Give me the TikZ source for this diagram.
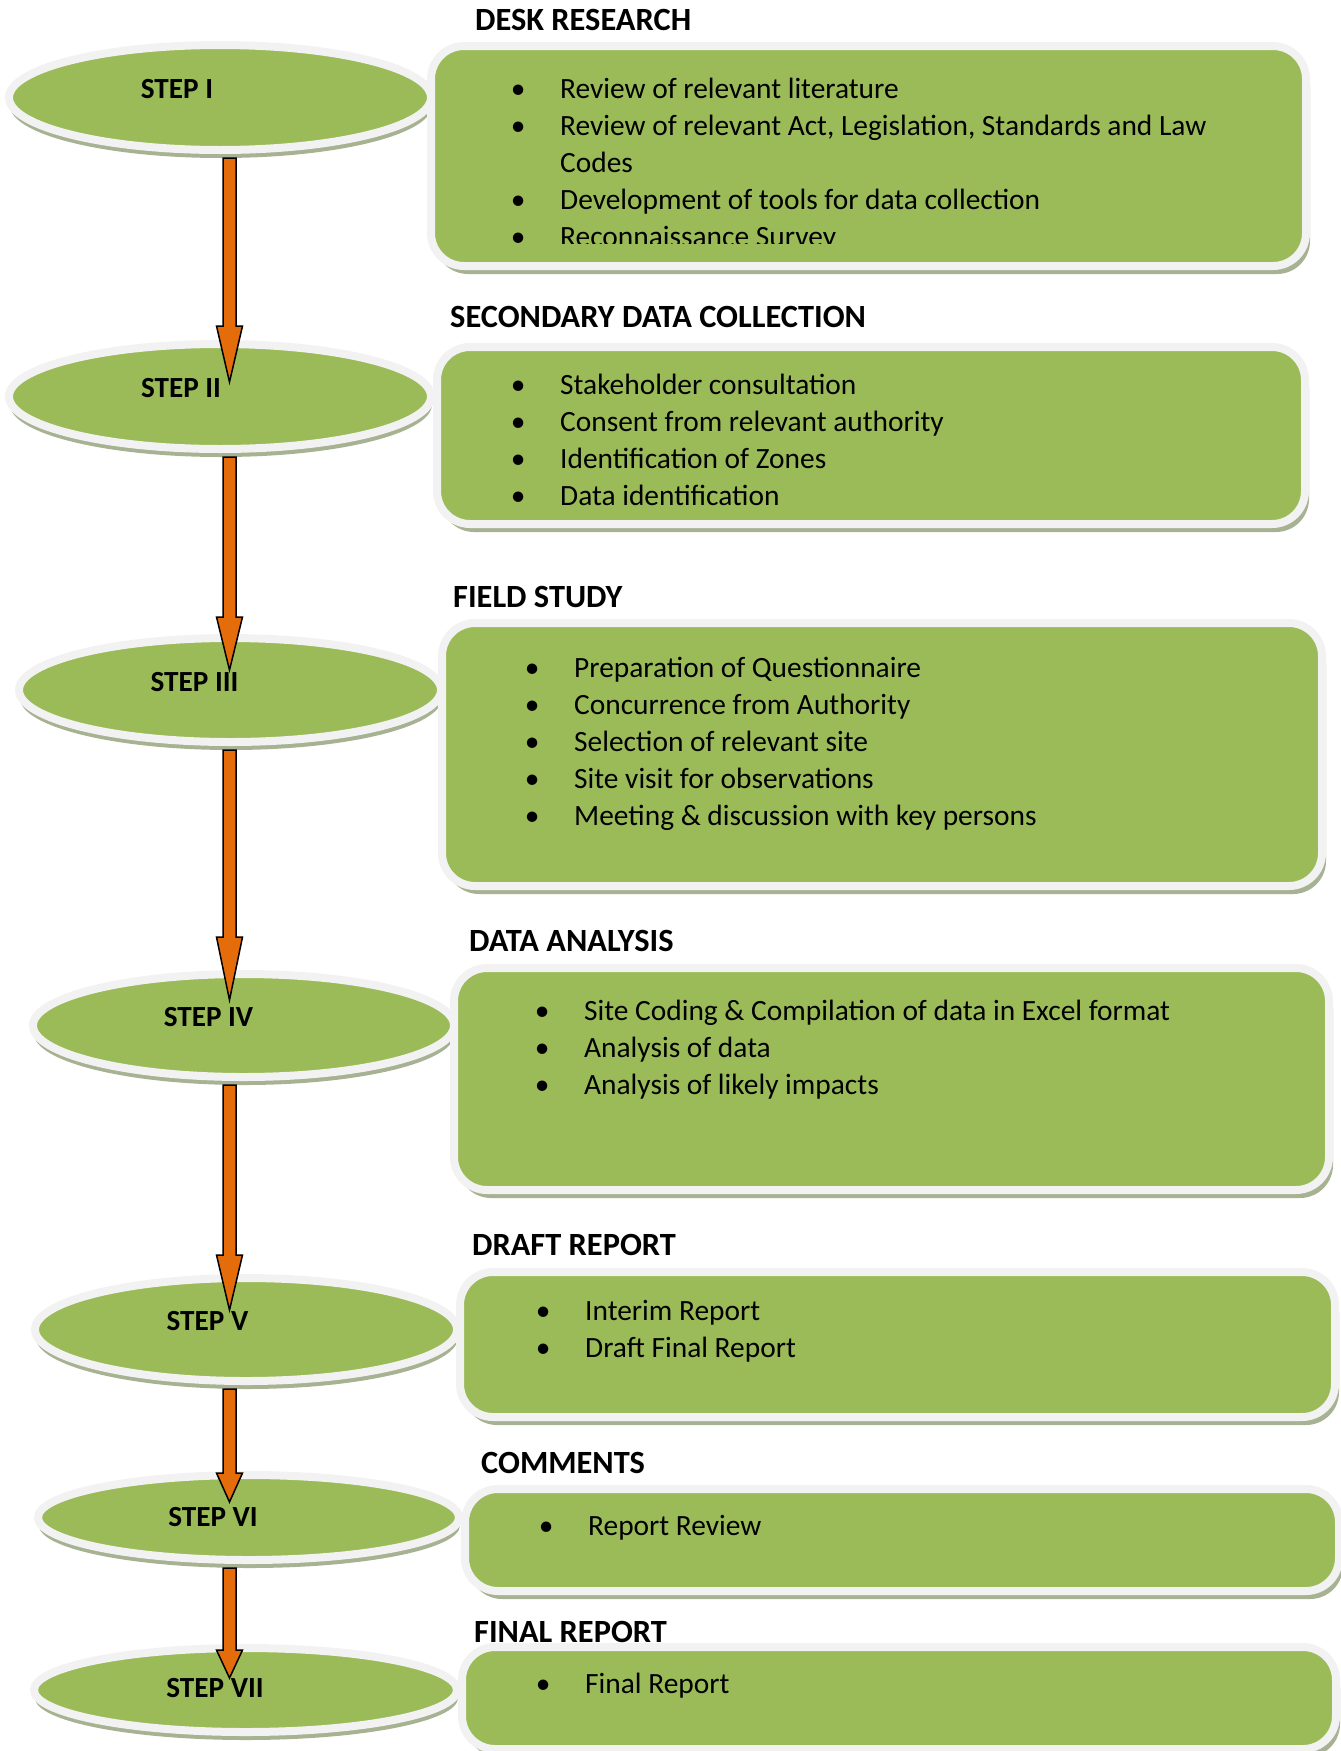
\documentclass[tikz,border=0pt]{standalone}
\usepackage{fontspec}
\setmainfont{Carlito}
\usetikzlibrary{shapes.geometric,shadows,calc}

\definecolor{leafgreen}{HTML}{9BBB59}
\definecolor{ringgrey}{HTML}{F2F2F2}
\definecolor{shadegreen}{HTML}{A6B292}
\definecolor{arroworange}{HTML}{E46C0A}

\newcommand{\bulletmark}{\makebox[42pt][l]{\makebox[0pt]{\textbullet}}}
% block arrow: from, to, tip depth, head length
\newcommand{\blockarrow}[4]{%
  \draw[flowarrow] let \p1=(#1.south -| axis), \p2=(#2.north -| axis) in
    (\x1-6.5pt,\y1-8pt) -- (\x1-6.5pt,\y2-#3+#4) -- (\x1-13pt,\y2-#3+#4)
    -- (\x1,\y2-#3) -- (\x1+13pt,\y2-#3+#4) -- (\x1+6.5pt,\y2-#3+#4)
    -- (\x1+6.5pt,\y1-8pt) -- cycle;}

\tikzset{
  stepnode/.style={ellipse, draw=ringgrey, line width=8pt, fill=leafgreen,
    inner sep=0pt, outer sep=0pt,
    drop shadow={shadow xshift=1pt, shadow yshift=-8pt, fill=shadegreen, opacity=1}},
  taskbox/.style={rectangle, rounded corners=33pt, draw=ringgrey, line width=8pt,
    fill=leafgreen, inner sep=0pt, outer sep=0pt,
    drop shadow={shadow xshift=4pt, shadow yshift=-8pt, fill=shadegreen, opacity=1}},
  steplabel/.style={anchor=base, inner sep=0pt, font=\bfseries\fontsize{29.2}{37}\selectfont},
  boxtitle/.style={anchor=base west, inner sep=0pt, font=\bfseries\fontsize{32.4}{37}\selectfont},
  items/.style={anchor=base west, inner sep=0pt, font=\fontsize{29.4}{37}\selectfont},
  flowarrow/.style={draw=black, line width=1.5pt, fill=arroworange, line join=miter}
}

\begin{document}
\begin{tikzpicture}[x=1pt,y=-1pt]
    \useasboundingbox (0,0) rectangle (1341,1751);
    \coordinate (axis) at (229.5,0);

    % steps
    \node[stepnode, minimum width=422pt, minimum height=105pt] (step1) at (220,97.5)   {};
    \node[stepnode, minimum width=422pt, minimum height=105pt] (step2) at (220,396.5)  {};
    \node[stepnode, minimum width=422pt, minimum height=104pt] (step3) at (230,690)    {};
    \node[stepnode, minimum width=421pt, minimum height=103pt] (step4) at (243.5,1025.5) {};
    \node[stepnode, minimum width=422pt, minimum height=103pt] (step5) at (246,1329.5) {};
    \node[stepnode, minimum width=421pt, minimum height=85pt]  (step6) at (248.5,1517.5) {};
    \node[stepnode, minimum width=423pt, minimum height=84pt]  (step7) at (245.5,1690) {};

    % boxes
    \node[taskbox, minimum width=875pt, minimum height=220pt] (box1) at (868.5,156)  {};
    \node[taskbox, minimum width=868pt, minimum height=177pt] (box2) at (871,435.5)  {};
    \node[taskbox, minimum width=880pt, minimum height=263pt] (box3) at (882,754.5)  {};
    \node[taskbox, minimum width=875pt, minimum height=222pt] (box4) at (891.5,1079) {};
    \node[taskbox, minimum width=875pt, minimum height=145pt] (box5) at (897.5,1344.5) {};
    \node[taskbox, minimum width=874pt, minimum height=102pt] (box6) at (902,1540)   {};
    \node[taskbox, minimum width=874pt, minimum height=102pt] (box7) at (899,1698)   {};

    % step labels
    \node[steplabel] (lab1) at (177,98)     {STEP I};
    \node[steplabel] (lab2) at (181,397)    {STEP II};
    \node[steplabel] (lab3) at (194.5,691)  {STEP III};
    \node[steplabel] (lab4) at (208.5,1026) {STEP IV};
    \node[steplabel] (lab5) at (207.5,1330) {STEP V};
    \node[steplabel] (lab6) at (213,1526)   {STEP VI};
    \node[steplabel] (lab7) at (215,1697)   {STEP VII};

    % titles
    \node[boxtitle] (ttl1) at (475,30)   {DESK RESEARCH};
    \node[boxtitle] (ttl2) at (450,327)  {SECONDARY DATA COLLECTION};
    \node[boxtitle] (ttl3) at (453,607)  {FIELD STUDY};
    \node[boxtitle] (ttl4) at (469,951)  {DATA ANALYSIS};
    \node[boxtitle] (ttl5) at (472,1255) {DRAFT REPORT};
    \node[boxtitle] (ttl6) at (481,1473) {COMMENTS};
    \node[boxtitle] (ttl7) at (474,1642) {FINAL REPORT};

    % lists
    \begin{scope}
        \clip (box1.north west) rectangle ([yshift=23pt]box1.south east);
        \node[items] (list1) at (518,98) {\begin{tabular}[t]{@{}l@{}}
            \bulletmark Review of relevant literature\\
            \bulletmark Review of relevant Act, Legislation, Standards and Law\\
            \hspace*{42pt}Codes\\
            \bulletmark Development of tools for data collection\\
            \bulletmark Reconnaissance Survey
        \end{tabular}};
    \end{scope}
    \node[items] (list2) at (518,394) {\begin{tabular}[t]{@{}l@{}}
            \bulletmark Stakeholder consultation\\
            \bulletmark Consent from relevant authority\\
            \bulletmark Identification of Zones\\
            \bulletmark Data identification
        \end{tabular}};
    \node[items] (list3) at (532,677) {\begin{tabular}[t]{@{}l@{}}
            \bulletmark Preparation of Questionnaire\\
            \bulletmark Concurrence from Authority\\
            \bulletmark Selection of relevant site\\
            \bulletmark Site visit for observations\\
            \bulletmark Meeting \& discussion with key persons
        \end{tabular}};
    \node[items] (list4) at (542,1020) {\begin{tabular}[t]{@{}l@{}}
            \bulletmark Site Coding \& Compilation of data in Excel format\\
            \bulletmark Analysis of data\\
            \bulletmark Analysis of likely impacts
        \end{tabular}};
    \node[items] (list5) at (543,1320) {\begin{tabular}[t]{@{}l@{}}
            \bulletmark Interim Report\\
            \bulletmark Draft Final Report
        \end{tabular}};
    \node[items] (list6) at (546,1535) {\bulletmark Report Review};
    \node[items] (list7) at (543,1693) {\bulletmark Final Report};

    % arrows
    \blockarrow{step1}{step2}{38pt}{56pt}
    \blockarrow{step2}{step3}{32pt}{53pt}
    \blockarrow{step3}{step4}{26pt}{63pt}
    \blockarrow{step4}{step5}{32pt}{55pt}
    \blockarrow{step5}{step6}{27pt}{29pt}
    \blockarrow{step6}{step7}{30pt}{28pt}
\end{tikzpicture}
\end{document}
